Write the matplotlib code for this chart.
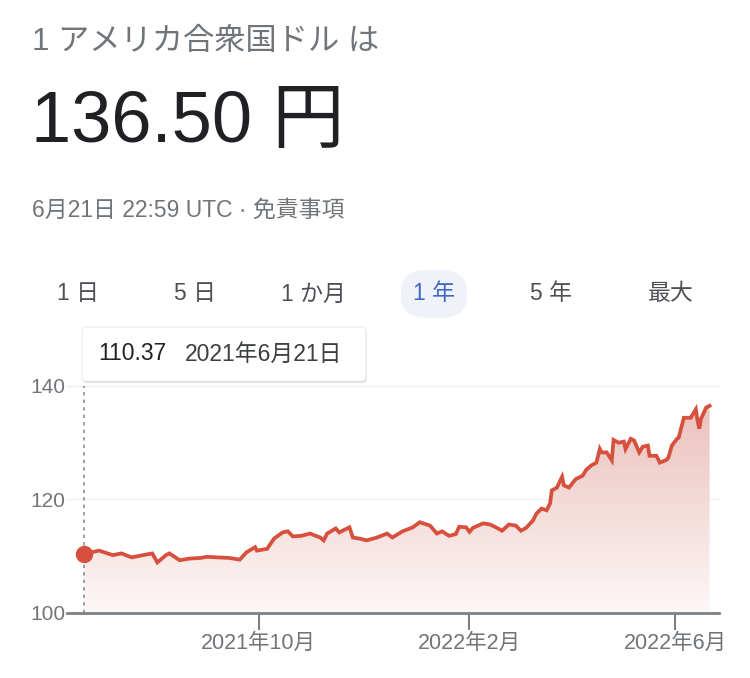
import numpy as np
import matplotlib
matplotlib.use("Agg")
import matplotlib.pyplot as plt
import matplotlib.dates as mdates
from matplotlib.colors import LinearSegmentedColormap
from matplotlib.patches import FancyBboxPatch

plt.rcParams["font.family"] = ["Liberation Sans", "Noto Sans CJK JP", "DejaVu Sans"]

# ----------------- DATA -----------------
DATES = [
    "2021-06-21", "2021-06-30", "2021-07-08", "2021-07-13", "2021-07-19", "2021-07-24",
    "2021-07-31", "2021-08-03", "2021-08-08", "2021-08-10", "2021-08-16", "2021-08-22",
    "2021-08-28", "2021-09-01", "2021-09-07", "2021-09-14", "2021-09-20", "2021-09-24",
    "2021-09-29", "2021-09-30", "2021-10-06", "2021-10-10", "2021-10-15", "2021-10-18",
    "2021-10-21", "2021-10-26", "2021-10-31", "2021-11-06", "2021-11-08", "2021-11-10",
    "2021-11-15", "2021-11-17", "2021-11-23", "2021-11-25", "2021-11-29", "2021-12-03",
    "2021-12-09", "2021-12-15", "2021-12-18", "2021-12-24", "2021-12-30", "2022-01-03",
    "2022-01-09", "2022-01-13", "2022-01-16", "2022-01-20", "2022-01-24", "2022-01-26",
    "2022-01-30", "2022-02-01", "2022-02-03", "2022-02-09", "2022-02-13", "2022-02-17",
    "2022-02-20", "2022-02-24", "2022-02-28", "2022-03-03", "2022-03-06", "2022-03-10",
    "2022-03-12", "2022-03-15", "2022-03-18", "2022-03-20", "2022-03-21", "2022-03-24",
    "2022-03-27", "2022-03-28", "2022-03-31", "2022-04-04", "2022-04-08", "2022-04-10",
    "2022-04-13", "2022-04-16", "2022-04-18", "2022-04-19", "2022-04-22", "2022-04-25",
    "2022-04-26", "2022-04-29", "2022-05-02", "2022-05-03", "2022-05-06", "2022-05-08",
    "2022-05-11", "2022-05-13", "2022-05-16", "2022-05-17", "2022-05-21", "2022-05-23",
    "2022-05-27", "2022-05-28", "2022-05-30", "2022-06-02", "2022-06-03", "2022-06-06",
    "2022-06-10", "2022-06-13", "2022-06-14", "2022-06-15", "2022-06-16", "2022-06-19",
    "2022-06-21",
]
RATES = [
    110.37, 111.0, 110.2, 110.5, 109.8, 110.1,
    110.5, 108.9, 110.2, 110.5, 109.3, 109.6,
    109.7, 109.9, 109.8, 109.7, 109.4, 110.7,
    111.6, 111.0, 111.3, 113.1, 114.2, 114.4,
    113.5, 113.6, 114.0, 113.3, 112.8, 114.0,
    114.9, 114.2, 115.1, 113.3, 113.1, 112.8,
    113.3, 114.0, 113.3, 114.4, 115.1, 116.0,
    115.4, 114.0, 114.4, 113.6, 113.9, 115.2,
    115.1, 114.3, 115.0, 115.8, 115.6, 115.0,
    114.5, 115.6, 115.4, 114.5, 115.0, 116.3,
    117.5, 118.4, 118.1, 119.3, 121.6, 122.1,
    124.0, 122.5, 122.1, 123.6, 124.2, 125.2,
    126.0, 126.5, 128.9, 128.3, 128.3, 126.9,
    130.5, 130.0, 130.2, 128.9, 130.7, 130.4,
    128.3, 129.3, 129.5, 127.7, 127.7, 126.5,
    127.0, 127.4, 129.5, 130.7, 130.9, 134.4,
    134.4, 135.9, 133.9, 132.5, 134.2, 136.2,
    136.5,
]
Y_TICKS = [100, 120, 140]
X_TICKS = ["2021-10-01", "2022-02-01", "2022-06-01"]
X_TICK_LABELS = ["2021年10月", "2022年2月", "2022年6月"]
TABS = ["1 日", "5 日", "1 か月", "1 年", "5 年", "最大"]
# ----------------------------------------

W, H = 750, 678
RED = "#d6503d"
GRAY = "#70757a"
DARK = "#202124"


def px(x, y):
    # pixel (from top-left) -> figure fraction
    return x / W, 1 - y / H


fig = plt.figure(figsize=(W / 100, H / 100), dpi=100)
fig.patch.set_facecolor("white")

# header texts
fig.text(*px(32, 42), "1 アメリカ合衆国ドル は", fontsize=22.5, color=GRAY, va="center")
fig.text(*px(31, 124), "136.50 円", fontsize=52, color=DARK, va="center")
fig.text(*px(32, 210), "6月21日 22:59 UTC · 免責事項", fontsize=16.5, color=GRAY, va="center")

# range tabs
tab_x = [78, 195, 313, 434, 551, 671]
x0, y0 = px(401, 318)
x1, y1 = px(467, 270)
pill = FancyBboxPatch((x0, y0), x1 - x0, y1 - y0, transform=fig.transFigure,
                      boxstyle="round,pad=0,rounding_size=0.035",
                      facecolor="#eff2f9", edgecolor="none", mutation_aspect=H / W)
fig.patches.append(pill)
for label, tx in zip(TABS, tab_x):
    col = "#3f66c4" if label == "1 年" else "#4d5156"
    fig.text(*px(tx, 294), label, fontsize=16.5, color=col, ha="center", va="center")

# chart axes
ax = fig.add_axes([67 / W, 65 / H, (719 - 67) / W, (613 - 386) / H])
dates = mdates.datestr2num(DATES)
rates = np.array(RATES)

start, end = dates[0], dates[-1]
ax.set_xlim(start - 9.7, end + 5.5)
ax.set_ylim(100, 140)

# gradient fill under the line
cmap = LinearSegmentedColormap.from_list("fade", ["#fdf8f8", "#e9bcb7"])
grad = np.linspace(0, 1, 256).reshape(-1, 1)
im = ax.imshow(grad, cmap=cmap, aspect="auto", origin="lower",
               extent=[start, end, 100, 140], zorder=1)
poly = ax.fill_between(dates, rates, 100, color="none", lw=0)
im.set_clip_path(poly.get_paths()[0], transform=ax.transData)

ax.plot(dates, rates, color=RED, lw=2.7, zorder=3, solid_joinstyle="miter")
ax.plot(dates[0], rates[0], "o", color=RED, ms=11.5, zorder=4, clip_on=False)
ax.vlines(dates[0], 100, 140, colors="#8a8f94", linestyles=(0, (2, 2.5)), lw=1.2, zorder=2)

for v in Y_TICKS[1:]:
    ax.axhline(v, color="#eeeeee", lw=1, zorder=0)

for s in ["top", "right", "left"]:
    ax.spines[s].set_visible(False)
ax.spines["bottom"].set_color("#7d8186")
ax.spines["bottom"].set_linewidth(2)

ax.set_yticks(Y_TICKS)
ax.set_yticklabels([str(v) for v in Y_TICKS])
ax.tick_params(axis="y", length=0, pad=1, labelsize=15, labelcolor=GRAY)
ax.set_xticks(mdates.datestr2num(X_TICKS))
ax.set_xticklabels(X_TICK_LABELS)
ax.tick_params(axis="x", length=12, width=1.5, color="#7d8186", pad=2,
               labelsize=15.5, labelcolor=GRAY)

# tooltip
tx0, ty0 = px(82, 381)
tx1, ty1 = px(366, 327)
shadow = FancyBboxPatch((tx0 + 0.001, ty0 - 0.003), tx1 - tx0, ty1 - ty0,
                        transform=fig.transFigure,
                        boxstyle="round,pad=0,rounding_size=0.006",
                        facecolor="#e0e0e0", edgecolor="none", zorder=5)
box = FancyBboxPatch((tx0, ty0), tx1 - tx0, ty1 - ty0, transform=fig.transFigure,
                     boxstyle="round,pad=0,rounding_size=0.006",
                     facecolor="white", edgecolor="#ececec", lw=0.8, zorder=6)
fig.patches.extend([shadow, box])
fig.text(*px(98, 354), "110.37", fontsize=16.5, color=DARK, va="center", zorder=7)
fig.text(*px(185, 354), "2021年6月21日", fontsize=16.5, color="#3c4043", va="center",
         zorder=7)

fig.savefig("out.png", dpi=100, facecolor="white")
